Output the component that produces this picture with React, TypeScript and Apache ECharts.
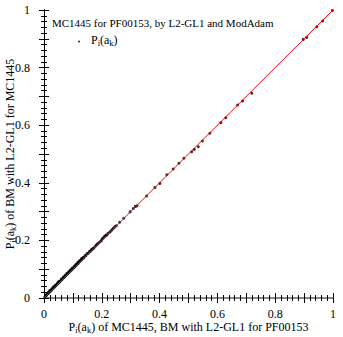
import React, { useEffect, useRef } from "react";
import * as echarts from "echarts";

const xVals = [
  0.003, 0.006, 0.008, 0.011, 0.013, 0.016, 0.018, 0.021, 0.024, 0.026, 0.029, 0.031,
  0.034, 0.037, 0.039, 0.042, 0.045, 0.047, 0.05, 0.053, 0.055, 0.058, 0.061, 0.063,
  0.066, 0.069, 0.071, 0.074, 0.077, 0.08, 0.082, 0.085, 0.088, 0.091, 0.094, 0.097,
  0.1, 0.103, 0.106, 0.109, 0.112, 0.115, 0.118, 0.121, 0.124, 0.127, 0.13, 0.133,
  0.138, 0.145, 0.153, 0.16, 0.166, 0.172, 0.18, 0.186, 0.199, 0.205, 0.212, 0.218,
  0.232, 0.24, 0.262, 0.276, 0.298, 0.309, 0.316, 0.322,
  0.355, 0.384, 0.401, 0.425, 0.447, 0.467, 0.484, 0.511, 0.52, 0.534, 0.548, 0.574,
  0.612, 0.629, 0.67, 0.687, 0.719, 0.897, 0.909, 0.944, 0.964, 0.998,
  0.005, 0.01, 0.015, 0.02, 0.027, 0.033, 0.04, 0.048, 0.052, 0.06, 0.067, 0.073,
  0.079, 0.086, 0.092, 0.098, 0.105, 0.111, 0.117, 0.123, 0.13, 0.136, 0.142, 0.149,
  0.157, 0.163, 0.169, 0.176, 0.183, 0.19, 0.195, 0.202, 0.209, 0.215, 0.222, 0.228,
  0.236, 0.245, 0.25,
];
const yVals = [
  0.004, 0.008, 0.009, 0.013, 0.015, 0.017, 0.021, 0.022, 0.026, 0.028, 0.031, 0.033,
  0.037, 0.038, 0.042, 0.044, 0.047, 0.05, 0.052, 0.055, 0.057, 0.061, 0.063, 0.065,
  0.069, 0.071, 0.073, 0.077, 0.079, 0.083, 0.084, 0.088, 0.09, 0.094, 0.096, 0.1,
  0.102, 0.106, 0.108, 0.112, 0.114, 0.118, 0.12, 0.124, 0.127, 0.13, 0.133, 0.136,
  0.14, 0.147, 0.155, 0.162, 0.168, 0.173, 0.182, 0.188, 0.2, 0.208, 0.215, 0.219,
  0.233, 0.242, 0.263, 0.277, 0.299, 0.311, 0.318, 0.32,
  0.354, 0.384, 0.398, 0.428, 0.448, 0.468, 0.485, 0.508, 0.516, 0.525, 0.545, 0.572,
  0.609, 0.626, 0.67, 0.684, 0.711, 0.898, 0.905, 0.942, 0.962, 0.998,
  0.009, 0.014, 0.02, 0.026, 0.032, 0.039, 0.045, 0.054, 0.058, 0.066, 0.073, 0.079,
  0.085, 0.092, 0.098, 0.104, 0.111, 0.117, 0.124, 0.13, 0.137, 0.141, 0.147, 0.154,
  0.161, 0.167, 0.172, 0.178, 0.186, 0.192, 0.196, 0.206, 0.213, 0.219, 0.225, 0.229,
  0.238, 0.247, 0.251,
];
const diagonal = [
  [0, 0],
  [1, 1],
];
const tickLabels = ["0", "0.2", "0.4", "0.6", "0.8", "1"];

const FONT = "Liberation Serif";
const rich = {
  p: { fontFamily: FONT, fontSize: 12, color: "#000", lineHeight: 13 },
  s: { fontFamily: FONT, fontSize: 8.5, color: "#000", lineHeight: 12, padding: [6, 0, 0, 0] },
};

const fmt = (v: number) => {
  const r = Math.round(v * 10);
  if (r % 2 !== 0) return "";
  return tickLabels[r / 2] ?? "";
};

export default function App() {
  const ref = useRef<HTMLDivElement>(null);
  useEffect(() => {
    if (!ref.current) return;
    const chart = echarts.init(ref.current, undefined, { renderer: "svg" });
    const axisCommon = {
      type: "value" as const,
      min: 0,
      max: 1,
      interval: 0.1,
      splitLine: { show: false },
      axisLine: { show: true, lineStyle: { color: "#000", width: 1 } },
      axisTick: { show: true, inside: false, length: 5, lineStyle: { color: "#000" } },
      minorTick: { show: true, splitNumber: 5, length: 3, lineStyle: { color: "#000" } },
    };
    chart.setOption({
      animation: false,
      grid: { left: 44, right: 10, top: 10, bottom: 39, containLabel: false, outerBoundsMode: "none" },
      xAxis: [
        {
          ...axisCommon,
          position: "bottom",
          axisLabel: { formatter: fmt, fontFamily: FONT, fontSize: 12, color: "#000", margin: 10 },
          name: "{p|P}{s|i}{p|(a}{s|k}{p|) of MC1445, BM with L2-GL1 for PF00153}",
          nameLocation: "middle",
          nameGap: 22,
          nameMoveOverlap: false,
          nameTextStyle: { rich },
        },
        {
          ...axisCommon,
          position: "top",
          axisLabel: { show: false },
          axisLine: { show: true, lineStyle: { color: "#888", width: 2 } },
        },
      ],
      yAxis: [
        {
          ...axisCommon,
          position: "left",
          axisLabel: { formatter: fmt, fontFamily: FONT, fontSize: 12, color: "#000", margin: 14 },
          name: "{p|P}{s|i}{p|(a}{s|k}{p|) of BM with L2-GL1 for MC1445}",
          nameLocation: "middle",
          nameGap: 28,
          nameMoveOverlap: false,
          nameTextStyle: { rich },
        },
        {
          ...axisCommon,
          position: "right",
          axisLabel: { show: false },
        },
      ],
      graphic: [
        {
          type: "text",
          left: 52,
          top: 17,
          style: {
            text: "MC1445 for PF00153, by L2-GL1 and ModAdam",
            font: "11px 'Liberation Serif'",
            fill: "#000",
          },
        },
        {
          type: "circle",
          shape: { cx: 79, cy: 41.5, r: 0.8 },
          style: { fill: "#000" },
        },
        {
          type: "text",
          left: 91,
          top: 32,
          style: { text: "{p|P}{s|i}{p|(a}{s|k}{p|)}", rich },
        },
      ],
      series: [
        {
          type: "scatter",
          data: xVals.map((x, i) => [x, yVals[i]]),
          symbol: "circle",
          symbolSize: 3,
          itemStyle: { color: "#000" },
        },
        {
          type: "line",
          data: diagonal,
          symbol: "none",
          lineStyle: { color: "#ff0000", width: 1 },
        },
      ],
    });
    return () => chart.dispose();
  }, []);
  return <div ref={ref} style={{ width: 343, height: 337, position: "absolute", left: 0, top: 0 }} />;
}
